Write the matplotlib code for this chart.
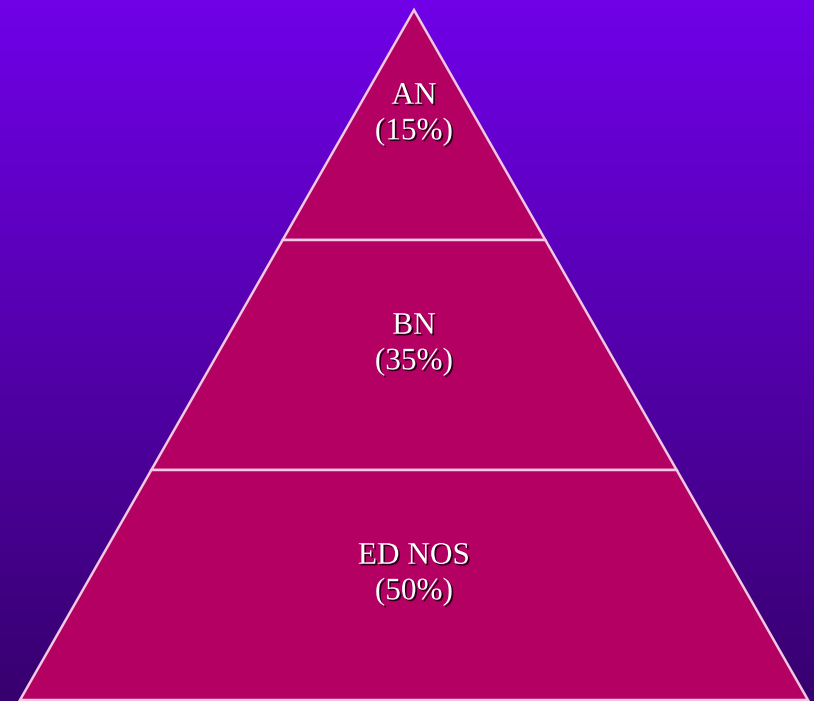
import numpy as np
import matplotlib
matplotlib.use("Agg")
import matplotlib.pyplot as plt
import matplotlib.patheffects as pe
from matplotlib.colors import LinearSegmentedColormap
from matplotlib.patches import Polygon

# tiers from top to bottom
labels = ['AN', 'BN', 'ED NOS']
shares = [15, 35, 50]

fill_color = '#B30062'
edge_color = '#F2C8E2'
bg_top = '#7000E8'
bg_bottom = '#37006F'

fig = plt.figure(figsize=(8.14, 7.01), dpi=100)
ax = fig.add_axes([0, 0, 1, 1])

n = len(labels)
# pyramid: base half width 1, height n (one unit per tier)
ax.set_xlim(-414 / 394, 400 / 394)
ax.set_ylim(-1 / 230, n + 10 / 230)
ax.axis('off')

# vertical gradient background
grad = np.linspace(0, 1, 256).reshape(-1, 1)
cmap = LinearSegmentedColormap.from_list('bg', [bg_bottom, bg_top])
ax.imshow(grad, cmap=cmap, aspect='auto', origin='lower',
          extent=[*ax.get_xlim(), *ax.get_ylim()], zorder=0)

def half_width(y):
    return 1 - y / n

for i, (lab, share) in enumerate(zip(labels, shares)):
    y_top = n - i
    y_bot = n - i - 1
    pts = [(-half_width(y_bot), y_bot), (half_width(y_bot), y_bot),
           (half_width(y_top), y_top), (-half_width(y_top), y_top)]
    ax.add_patch(Polygon(pts, closed=True, facecolor=fill_color,
                         edgecolor=edge_color, linewidth=1.8, zorder=2,
                         joinstyle='miter'))
    yc = (y_top + y_bot) / 2 + 11 / 230
    ax.text(0, yc, f"{lab}\n({share}%)", ha='center', va='center',
            multialignment='center', fontsize=22.5, color='white',
            family='Liberation Serif', linespacing=1.3, zorder=3,
            path_effects=[pe.withSimplePatchShadow(offset=(1.2, -1.2),
                                                   shadow_rgbFace='#2A0018',
                                                   alpha=1.0)])

fig.savefig('out.png', dpi=100)
